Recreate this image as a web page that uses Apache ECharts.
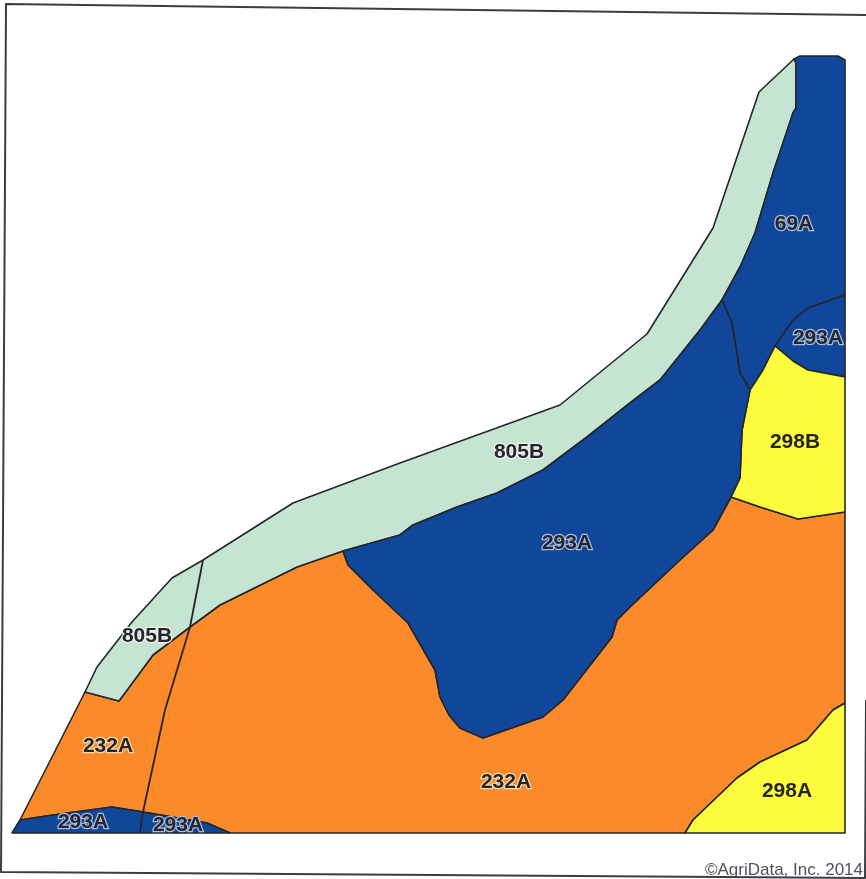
<!DOCTYPE html>
<html><head><meta charset="utf-8">
<style>html,body{margin:0;padding:0;background:#fff;overflow:hidden}#c{width:866px;height:879px;filter:blur(0.5px)}</style>
<script src="https://cdn.jsdelivr.net/npm/echarts@6/dist/echarts.min.js"></script>
</head><body><div id="c"></div>
<script>
const mapWidth = 866, mapHeight = 879;
// soil unit outlines
const unit232A = [[20,820],[85,692],[119,701],[153,655],[190,627],[220,605],[297,567],[343,551],[348,565],[373,590],[408,623],[435,670],[440,697],[449,715],[460,728],[483,738],[543,717],[563,700],[612,637],[617,620],[630,607],[680,560],[713,530],[731,497],[760,507],[798,519],[845,512],[845,703],[833,710],[807,740],[760,762],[737,778],[693,820],[685,833],[230,833],[207,823],[143,812],[112,807],[53,815]];
const unit298A = [[845,703],[833,710],[807,740],[760,762],[737,778],[693,820],[685,833],[845,833]];
const unit805B = [[85,692],[97,667],[132,622],[172,578],[203,560],[293,503],[400,463],[560,405],[647,334],[713,228],[759,92],[794,59],[796,63],[796,108],[793,113],[773,173],[755,233],[740,267],[722,300],[700,330],[660,380],[630,403],[587,437],[543,470],[497,493],[457,507],[413,525],[400,535],[343,551],[297,567],[220,605],[190,627],[153,655],[119,701]];
const unit69A = [[794,59],[800,56],[838,56],[845,60],[845,295],[808,308],[793,320],[775,346],[763,370],[750,390],[740,373],[732,323],[722,300],[740,267],[755,233],[773,173],[793,113],[796,108],[796,63]];
const unit293Ae = [[845,295],[808,308],[793,320],[775,346],[793,361],[808,370],[845,377]];
const unit298B = [[775,346],[793,361],[808,370],[845,377],[845,512],[798,519],[760,507],[731,497],[740,478],[742,430],[750,390],[763,370]];
const unit293Ac = [[722,300],[732,323],[740,373],[750,390],[742,430],[740,478],[731,497],[713,530],[680,560],[630,607],[617,620],[612,637],[563,700],[543,717],[483,738],[460,728],[449,715],[440,697],[435,670],[408,623],[373,590],[348,565],[343,551],[400,535],[413,525],[457,507],[497,493],[543,470],[587,437],[630,403],[660,380],[700,330]];
const unit293As = [[12,833],[20,820],[53,815],[112,807],[143,812],[207,823],[230,833]];
const fieldLine = [[203,560],[190,627],[165,710],[143,812],[140,833]];
const frameLine = [[866,15],[6,4],[1,872],[865,878],[866,700]];

const soilLabels = [
  ['69A',794,224,'#a9bce0'],['293A',818,338,'#a9bce0'],['298B',795,442,'#fdfb3e'],
  ['805B',519,452,'#eef2ee'],['293A',567,543,'#a9bce0'],['805B',147,636,'#eef2ee'],
  ['232A',108,746,'#fdd9a8'],['232A',506,782,'#fdd9a8'],['298A',787,791,'#fdfb3e'],
  ['293A',83,822,'#a9bce0'],['293A',178,825,'#a9bce0']
];
const creditText = '©AgriData, Inc. 2014';

const ORANGE = '#fb8a2a', BLUE = '#10479b', YELLOW = '#fdfb3e', GREEN = '#c5e4d2', LINE = '#23262b';

function area(pts, fill, closed, lw, stroke) {
  return {
    type: 'custom', coordinateSystem: 'cartesian2d', silent: true, clip: false,
    data: pts, encode: {x: 0, y: 1},
    renderItem: (params, api) => params.dataIndex ? null : ({
      type: closed ? 'polygon' : 'polyline',
      shape: {points: pts.map(p => api.coord(p))},
      style: {fill: fill || 'none', stroke: stroke || LINE, lineWidth: lw || 1.6, lineJoin: 'round'}
    })
  };
}
function labels(halo) {
  return {
    type: 'scatter', silent: true, symbolSize: 0, itemStyle: {opacity: 1},
    data: soilLabels.map(l => ({
      value: [l[1], l[2]],
      label: {
        show: true, position: 'inside', formatter: l[0], opacity: 1,
        fontFamily: 'Liberation Sans', fontSize: 21, color: halo ? l[3] : '#24262c',
        fontWeight: 'bold',
        textBorderColor: halo ? l[3] : 'transparent', textBorderWidth: halo ? 2.5 : 0
      }
    }))
  };
}

const chart = echarts.init(document.getElementById('c'), null, {renderer: 'canvas'});
chart.setOption({
  animation: false,
  backgroundColor: '#ffffff',
  grid: {left: 0, top: 0, right: 0, bottom: 0},
  xAxis: {type: 'value', min: 0, max: mapWidth, show: false},
  yAxis: {type: 'value', min: 0, max: mapHeight, inverse: true, show: false},
  series: [
    area(frameLine, null, false, 2, '#3a3d42'),
    area(unit232A, ORANGE, true),
    area(unit298A, YELLOW, true),
    area(unit805B, GREEN, true),
    area(unit69A, BLUE, true),
    area(unit293Ae, BLUE, true),
    area(unit298B, YELLOW, true),
    area(unit293Ac, BLUE, true),
    area(unit293As, BLUE, true),
    area(fieldLine, null, false, 1.8),
    labels(true),
    labels(false)
  ],
  graphic: [{
    type: 'text', right: 3, top: 862,
    style: {text: creditText, font: '17px "Liberation Sans"', fill: '#4e5258'}
  }]
});
</script></body></html>
